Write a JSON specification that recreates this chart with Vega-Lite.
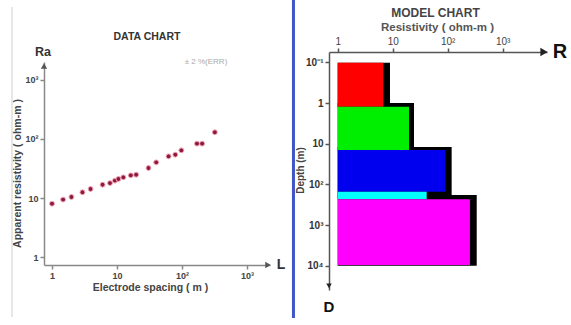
{
  "$schema": "https://vega.github.io/schema/vega-lite/v6.json",
  "width": 571,
  "height": 325,
  "autosize": {"type": "none"},
  "padding": 0,
  "background": "white",
  "config": {
    "view": {"stroke": null},
    "font": "Liberation Sans",
    "axis": {"grid": false, "labelFont": "Liberation Sans", "titleFont": "Liberation Sans", "labelOverlap": false, "labelFlush": false}
  },
  "datasets": {
    "soundings": [
      {"spacing": 1.0, "rho": 8.0},
      {"spacing": 1.48, "rho": 9.4},
      {"spacing": 1.99, "rho": 10.4},
      {"spacing": 2.94, "rho": 12.5},
      {"spacing": 3.92, "rho": 14.2},
      {"spacing": 6.0, "rho": 16.8},
      {"spacing": 7.8, "rho": 17.9},
      {"spacing": 9.3, "rho": 19.7},
      {"spacing": 10.5, "rho": 21.0},
      {"spacing": 12.5, "rho": 22.4},
      {"spacing": 16.3, "rho": 24.2},
      {"spacing": 19.7, "rho": 24.8},
      {"spacing": 30.5, "rho": 32.2},
      {"spacing": 40.1, "rho": 40.2},
      {"spacing": 62.2, "rho": 50.8},
      {"spacing": 78.9, "rho": 54.2},
      {"spacing": 97.7, "rho": 64.2},
      {"spacing": 170, "rho": 83.4},
      {"spacing": 204, "rho": 83.4},
      {"spacing": 320, "rho": 130}
    ],
    "leftText": [
      {"x": 0.727, "y": 2985, "label": "Ra", "kind": "axislabel"},
      {"x": 28.9, "y": 5355, "label": "DATA CHART", "kind": "title"},
      {"x": 234, "y": 2018, "label": "± 2 %(ERR)", "kind": "note"},
      {"x": 3337, "y": 0.732, "label": "L", "kind": "axisletter"}
    ],
    "leftArrows": [
      {"x": 0.753, "y": 1726, "dir": "up"},
      {"x": 2104, "y": 0.732, "dir": "right"}
    ],
    "leftFrame": [
      {"x": 0.2424, "y": 17260, "y2": 0.0962}
    ],
    "layers": [
      {"layer": "L1", "from": 1, "top": 0.102, "bottom": 1.23, "r": 6.75, "sTop": 0.102, "sBottom": 1.23, "sR": 8.93},
      {"layer": "L2", "from": 1, "top": 1.23, "bottom": 14.3, "r": 19.8, "sTop": 1.0, "sBottom": 14.3, "sR": 24.4},
      {"layer": "L3", "from": 1, "top": 14.3, "bottom": 151, "r": 89.3, "sTop": 12.1, "sBottom": 182, "sR": 118},
      {"layer": "L4", "from": 1, "top": 151, "bottom": 232, "r": 41.5, "sTop": 151, "sBottom": 232, "sR": 41.5},
      {"layer": "L5", "from": 1, "top": 232, "bottom": 9500, "r": 254, "sTop": 182, "sBottom": 10000, "sR": 337}
    ],
    "rightText": [
      {"x": 60, "y": 0.00625, "label": "MODEL CHART", "kind": "title"},
      {"x": 11010, "y": 0.0558, "label": "R", "kind": "big"},
      {"x": 0.695, "y": 105900, "label": "D", "kind": "mid"}
    ],
    "rightArrows": [
      {"x": 5635, "y": 0.0558, "dir": "right"},
      {"x": 0.695, "y": 31340, "dir": "down"}
    ],
    "divider": [
      {"x": 0.157, "y": 0.00294, "y2": 191900}
    ]
  },
  "layer": [
    {
      "layer": [
        {
          "data": {"name": "leftFrame"},
          "mark": {"type": "rule", "color": "#cfcfcf", "strokeWidth": 1},
          "encoding": {
            "x": {
              "field": "x", "type": "quantitative",
              "scale": {"type": "log", "domain": [0.753, 2259], "range": [44, 270], "nice": false},
              "axis": {
                "orient": "bottom", "offset": -60, "values": [1, 10, 100, 1000],
                "labelExpr": "datum.value == 1 ? '1' : datum.value == 10 ? '10' : datum.value == 100 ? '10²' : '10³'",
                "domainColor": "#888", "domainWidth": 1.5, "tickColor": "#888", "tickSize": 4, "tickWidth": 1.5,
                "labelColor": "#444", "labelFontSize": 9, "labelFontWeight": "bold", "labelPadding": 2,
                "title": "Electrode spacing  ( m )", "titleX": 150, "titleY": 22, "titleAlign": "center", "titleBaseline": "middle",
                "titleFontSize": 10.5, "titleFontWeight": "bold", "titleColor": "#444"
              }
            },
            "y": {
              "field": "y", "type": "quantitative",
              "scale": {"type": "log", "domain": [0.732, 2018], "range": [265, 62], "nice": false},
              "axis": {
                "orient": "left", "offset": -44, "values": [1, 10, 100, 1000],
                "labelExpr": "datum.value == 1 ? '1' : datum.value == 10 ? '10' : datum.value == 100 ? '10²' : '10³'",
                "domainColor": "#888", "domainWidth": 1.5, "tickColor": "#888", "tickSize": 4, "tickWidth": 1.5,
                "labelColor": "#444", "labelFontSize": 9, "labelFontWeight": "bold", "labelPadding": 2,
                "title": "Apparent resistivity   ( ohm-m )", "titleX": -27, "titleY": 173, "titleAngle": -90, "titleAlign": "center", "titleBaseline": "middle",
                "titleFontSize": 10.5, "titleFontWeight": "bold", "titleColor": "#444"
              }
            },
            "y2": {"field": "y2"}
          }
        },
        {
          "data": {"name": "soundings"},
          "mark": {"type": "point", "filled": true, "shape": "circle", "size": 24, "color": "#8c1a3c", "stroke": "#f2a7b8", "strokeWidth": 1, "opacity": 1},
          "encoding": {
            "x": {"field": "spacing", "type": "quantitative"},
            "y": {"field": "rho", "type": "quantitative"}
          }
        },
        {
          "data": {"name": "leftArrows"},
          "transform": [{"filter": "datum.dir == 'up'"}],
          "mark": {"type": "point", "filled": true, "size": 40, "color": "#555", "opacity": 1, "shape": "triangle-up"},
          "encoding": {
            "x": {"field": "x", "type": "quantitative"},
            "y": {"field": "y", "type": "quantitative"}
          }
        },
        {
          "data": {"name": "leftArrows"},
          "transform": [{"filter": "datum.dir == 'right'"}],
          "mark": {"type": "point", "filled": true, "size": 40, "color": "#555", "opacity": 1, "shape": "triangle-right"},
          "encoding": {
            "x": {"field": "x", "type": "quantitative"},
            "y": {"field": "y", "type": "quantitative"}
          }
        },
        {
          "data": {"name": "leftText"},
          "transform": [{"filter": "datum.kind == 'axislabel'"}],
          "mark": {"type": "text", "align": "center", "baseline": "middle", "fontWeight": "bold", "fontSize": 12.5, "color": "#333"},
          "encoding": {
            "x": {"field": "x", "type": "quantitative"},
            "y": {"field": "y", "type": "quantitative"},
            "text": {"field": "label"}
          }
        },
        {
          "data": {"name": "leftText"},
          "transform": [{"filter": "datum.kind == 'title'"}],
          "mark": {"type": "text", "align": "center", "baseline": "middle", "fontWeight": "bold", "fontSize": 10.5, "color": "#333"},
          "encoding": {
            "x": {"field": "x", "type": "quantitative"},
            "y": {"field": "y", "type": "quantitative"},
            "text": {"field": "label"}
          }
        },
        {
          "data": {"name": "leftText"},
          "transform": [{"filter": "datum.kind == 'note'"}],
          "mark": {"type": "text", "align": "center", "baseline": "middle", "fontSize": 8, "color": "#aaa"},
          "encoding": {
            "x": {"field": "x", "type": "quantitative"},
            "y": {"field": "y", "type": "quantitative"},
            "text": {"field": "label"}
          }
        },
        {
          "data": {"name": "leftText"},
          "transform": [{"filter": "datum.kind == 'axisletter'"}],
          "mark": {"type": "text", "align": "center", "baseline": "middle", "fontWeight": "bold", "fontSize": 14, "color": "#333"},
          "encoding": {
            "x": {"field": "x", "type": "quantitative"},
            "y": {"field": "y", "type": "quantitative"},
            "text": {"field": "label"}
          }
        }
      ]
    },
    {
      "layer": [
        {
          "data": {"name": "divider"},
          "mark": {"type": "rule", "color": "#3f55c8", "strokeWidth": 3},
          "encoding": {
            "x": {
              "field": "x", "type": "quantitative",
              "scale": {"type": "log", "domain": [0.695, 6390], "range": [329, 547], "nice": false},
              "axis": {
                "orient": "top", "offset": -52, "values": [1, 10, 100, 1000],
                "labelExpr": "datum.value == 1 ? '1' : datum.value == 10 ? '10' : datum.value == 100 ? '10²' : '10³'",
                "domainColor": "#555", "domainWidth": 1.5, "tickColor": "#555", "tickSize": 4, "tickWidth": 1.5,
                "labelColor": "#444", "labelFontSize": 10, "labelPadding": 2,
                "title": "Resistivity   ( ohm-m )", "titleX": 437, "titleY": -25, "titleAlign": "center", "titleBaseline": "middle",
                "titleFontSize": 11.5, "titleFontWeight": "bold", "titleColor": "#555"
              }
            },
            "y": {
              "field": "y", "type": "quantitative",
              "scale": {"type": "log", "domain": [0.0558, 39350], "range": [52, 290], "nice": false},
              "axis": {
                "orient": "left", "offset": -329, "values": [0.1, 1, 10, 100, 1000, 10000],
                "labelExpr": "datum.value < 0.5 ? '10⁻¹' : datum.value < 5 ? '1' : datum.value < 50 ? '10' : datum.value < 500 ? '10²' : datum.value < 5000 ? '10³' : '10⁴'",
                "domainColor": "#555", "domainWidth": 1.5, "tickColor": "#555", "tickSize": 4, "tickWidth": 1.5,
                "labelColor": "#333", "labelFontSize": 10, "labelFontWeight": "bold", "labelPadding": 2,
                "title": "Depth  (m)", "titleX": -29, "titleY": 170, "titleAngle": -90, "titleAlign": "center", "titleBaseline": "middle",
                "titleFontSize": 10, "titleFontWeight": "bold", "titleColor": "#444"
              }
            },
            "y2": {"field": "y2"}
          }
        },
        {
          "data": {"name": "layers"},
          "mark": {"type": "rect", "color": "#000"},
          "encoding": {
            "x": {"field": "from", "type": "quantitative"},
            "x2": {"field": "sR"},
            "y": {"field": "sTop", "type": "quantitative"},
            "y2": {"field": "sBottom"}
          }
        },
        {
          "data": {"name": "layers"},
          "mark": {"type": "rect"},
          "encoding": {
            "x": {"field": "from", "type": "quantitative"},
            "x2": {"field": "r"},
            "y": {"field": "top", "type": "quantitative"},
            "y2": {"field": "bottom"},
            "color": {"field": "layer", "type": "nominal", "scale": {"domain": ["L1", "L2", "L3", "L4", "L5"], "range": ["#ff0000", "#00ee00", "#0000ee", "#00ffff", "#ff00ff"]}, "legend": null}
          }
        },
        {
          "data": {"name": "rightArrows"},
          "transform": [{"filter": "datum.dir == 'right'"}],
          "mark": {"type": "point", "filled": true, "color": "#222", "opacity": 1, "shape": "triangle-right", "size": 70},
          "encoding": {
            "x": {"field": "x", "type": "quantitative"},
            "y": {"field": "y", "type": "quantitative"}
          }
        },
        {
          "data": {"name": "rightArrows"},
          "transform": [{"filter": "datum.dir == 'down'"}],
          "mark": {"type": "point", "filled": true, "color": "#222", "opacity": 1, "shape": "triangle-down", "size": 30},
          "encoding": {
            "x": {"field": "x", "type": "quantitative"},
            "y": {"field": "y", "type": "quantitative"}
          }
        },
        {
          "data": {"name": "rightText"},
          "transform": [{"filter": "datum.kind == 'title'"}],
          "mark": {"type": "text", "align": "center", "baseline": "middle", "fontWeight": "bold", "fontSize": 12, "color": "#444"},
          "encoding": {
            "x": {"field": "x", "type": "quantitative"},
            "y": {"field": "y", "type": "quantitative"},
            "text": {"field": "label"}
          }
        },
        {
          "data": {"name": "rightText"},
          "transform": [{"filter": "datum.kind == 'big'"}],
          "mark": {"type": "text", "align": "center", "baseline": "middle", "fontWeight": "bold", "fontSize": 20, "color": "#111"},
          "encoding": {
            "x": {"field": "x", "type": "quantitative"},
            "y": {"field": "y", "type": "quantitative"},
            "text": {"field": "label"}
          }
        },
        {
          "data": {"name": "rightText"},
          "transform": [{"filter": "datum.kind == 'mid'"}],
          "mark": {"type": "text", "align": "center", "baseline": "middle", "fontWeight": "bold", "fontSize": 15, "color": "#111"},
          "encoding": {
            "x": {"field": "x", "type": "quantitative"},
            "y": {"field": "y", "type": "quantitative"},
            "text": {"field": "label"}
          }
        }
      ]
    }
  ],
  "resolve": {"scale": {"x": "independent", "y": "independent"}}
}
